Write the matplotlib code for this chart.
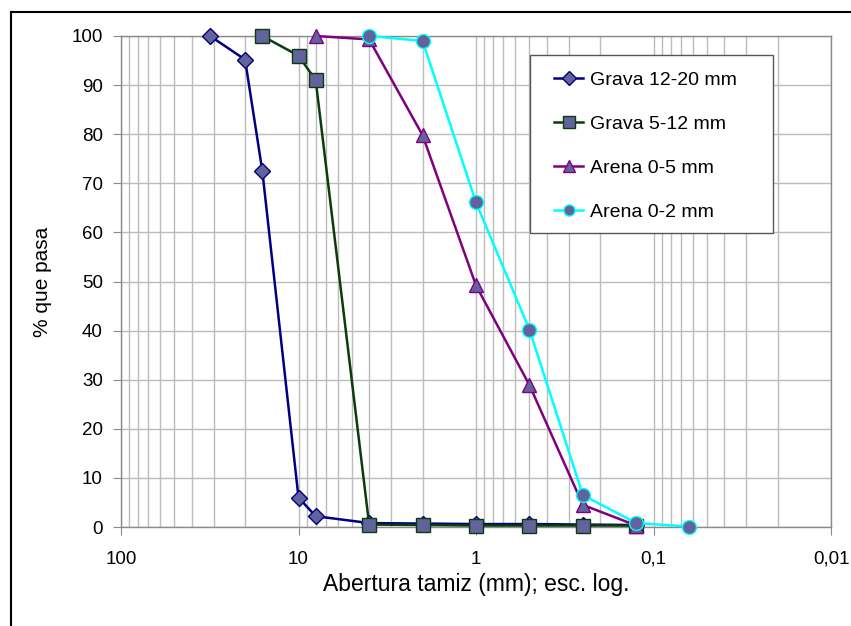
"""Curvas granulometricas de los aridos (escala log, eje invertido)."""

import matplotlib
matplotlib.use("Agg")
import matplotlib.pyplot as plt
from matplotlib.lines import Line2D
from matplotlib.patches import Rectangle
from matplotlib.ticker import FixedLocator, FixedFormatter, LogLocator, NullFormatter

plt.rcParams["font.family"] = ["Liberation Sans", "DejaVu Sans"]

# abertura de tamiz (mm) y % que pasa
sieves_g1 = [31.5, 20, 16, 10, 8, 4, 2, 1, 0.5, 0.25, 0.125]
pass_g1 = [100, 95.2, 72.6, 6.0, 2.2, 0.8, 0.7, 0.6, 0.6, 0.5, 0.4]

sieves_g2 = [16, 10, 8, 4, 2, 1, 0.5, 0.25, 0.125]
pass_g2 = [100, 96.0, 91.0, 0.5, 0.4, 0.3, 0.3, 0.3, 0.3]

sieves_a5 = [8, 4, 2, 1, 0.5, 0.25, 0.125]
pass_a5 = [100, 99.3, 79.8, 49.2, 28.9, 4.5, 0.3]

sieves_a2 = [4, 2, 1, 0.5, 0.25, 0.125, 0.063]
pass_a2 = [100, 99.0, 66.1, 40.2, 6.5, 0.8, 0.1]

labels = ["Grava 12-20 mm", "Grava 5-12 mm", "Arena 0-5 mm", "Arena 0-2 mm"]
line_colors = ["#000080", "#0b3d0b", "#800080", "#00ffff"]
markers = ["D", "s", "^", "o"]
msizes = [8, 10, 10, 10]
fill = "#62639c"

x_ticks = [100, 10, 1, 0.1, 0.01]
x_tick_labels = ["100", "10", "1", "0,1", "0,01"]
y_ticks = list(range(0, 101, 10))

W, H = 851, 626
fig = plt.figure(figsize=(W / 100, H / 100), dpi=100)
ax = fig.add_axes([121 / W, 1 - 527 / H, 710 / W, 491 / H])

series = [(sieves_g1, pass_g1), (sieves_g2, pass_g2),
          (sieves_a5, pass_a5), (sieves_a2, pass_a2)]
for (xs, ys), lab, col, mk, ms in zip(series, labels, line_colors, markers, msizes):
    ax.plot(xs, ys, color=col, lw=1.8, marker=mk, ms=ms, mfc=fill,
            mec=col, mew=1.0, label=lab, zorder=3, clip_on=False)

ax.set_xscale("log")
ax.set_xlim(100, 0.01)
ax.set_ylim(0, 100)

ax.xaxis.set_major_locator(FixedLocator(x_ticks))
ax.xaxis.set_major_formatter(FixedFormatter(x_tick_labels))
ax.xaxis.set_minor_locator(LogLocator(base=10, subs=range(2, 10), numticks=20))
ax.xaxis.set_minor_formatter(NullFormatter())
ax.set_yticks(y_ticks)

ax.grid(True, which="both", axis="x", color="#bcbcbc", lw=1.0)
ax.grid(True, which="major", axis="y", color="#bcbcbc", lw=1.0)
ax.set_axisbelow(True)

for s in ax.spines.values():
    s.set_color("#8a8a8a")
    s.set_linewidth(1.0)

ax.tick_params(axis="both", which="major", direction="out", length=6,
               color="#8a8a8a", labelsize=13.5, pad=7)
ax.tick_params(axis="x", which="minor", length=0)
ax.tick_params(axis="x", which="major", pad=11)

ax.set_xlabel("Abertura tamiz (mm); esc. log.", fontsize=16.5, labelpad=4)
ax.set_ylabel("% que pasa", fontsize=15, labelpad=14)

# leyenda: marco dibujado aparte para imitar el relleno de Excel
fig.add_artist(Rectangle((530 / W, 1 - 233 / H), 243 / W, 178 / H,
                         transform=fig.transFigure, facecolor="white",
                         edgecolor="#555555", lw=1.0, zorder=4))
handles = [Line2D([], [], color=c, lw=1.8, marker=m, ms=ms, mfc=fill, mec=c)
           for c, m, ms in zip(line_colors, markers, [7, 8, 8, 8])]
leg = fig.legend(handles, labels, loc="upper left",
                 bbox_to_anchor=(554 / W, 1 - 71 / H),
                 bbox_transform=fig.transFigure, fontsize=14,
                 frameon=False, labelspacing=1.36, handlelength=1.5,
                 handletextpad=0.35, borderpad=0, borderaxespad=0)
leg.set_zorder(5)

# marco exterior (recortado a derecha y abajo)
fig.add_artist(Line2D([11 / W, 11 / W], [0, 1 - 12 / H], color="black", lw=1.5))
fig.add_artist(Line2D([11 / W, 1], [1 - 12 / H, 1 - 12 / H], color="black", lw=1.5))

fig.savefig("out.png", dpi=100)
